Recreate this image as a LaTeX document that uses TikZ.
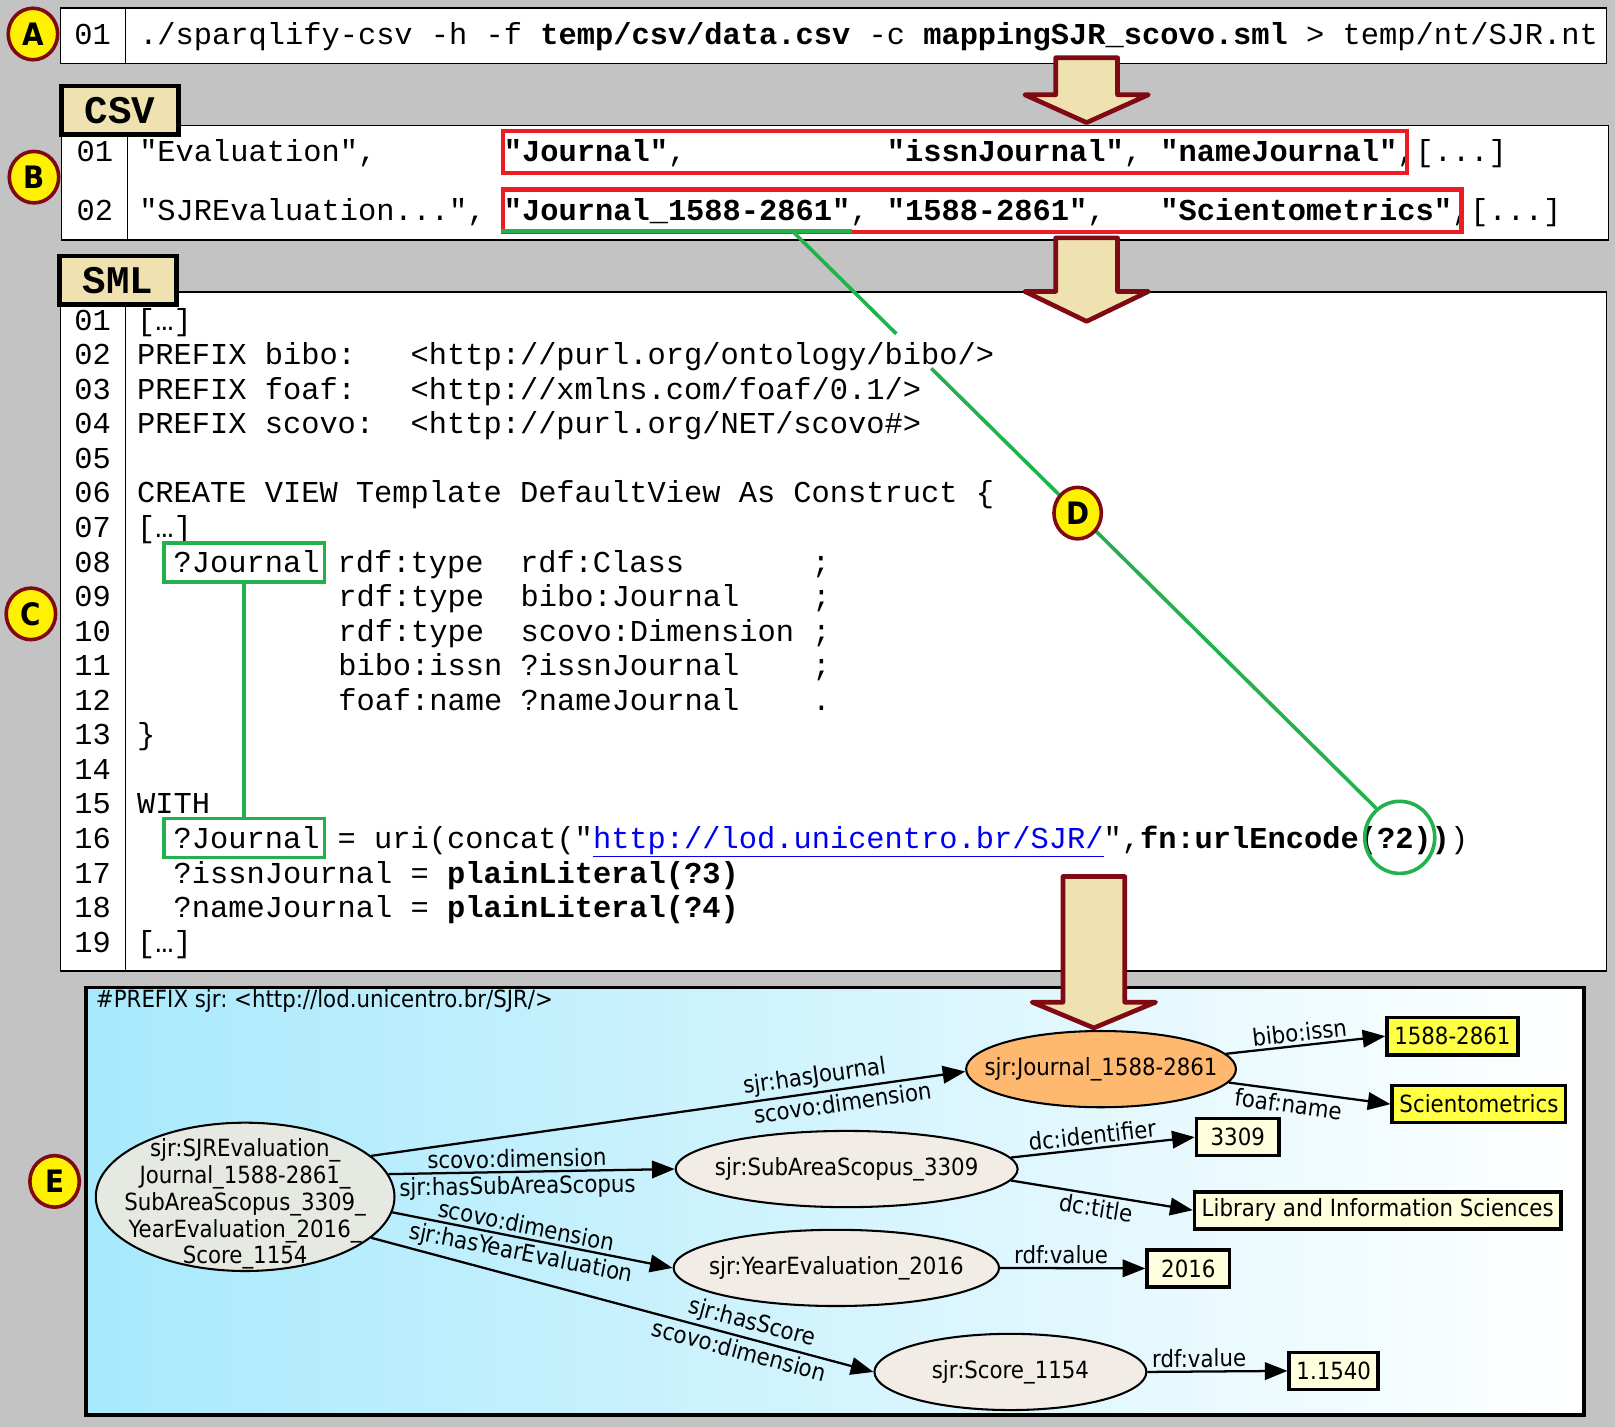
\documentclass[tikz,border=0pt]{standalone}
\usepackage{fontspec}
\setmainfont{DejaVu Sans Condensed}
\setmonofont{Liberation Mono}
\usepackage{tikz}
\usetikzlibrary{positioning,calc,arrows.meta,shapes.geometric}
\frenchspacing
\definecolor{bgc}{HTML}{C3C3C3}
\definecolor{wheatc}{HTML}{EFE2B0}
\definecolor{maroonc}{HTML}{800A14}
\definecolor{hlred}{HTML}{ED1C24}
\definecolor{hlgreen}{HTML}{22B14C}
\definecolor{badgec}{HTML}{FFF200}
\definecolor{skyc}{HTML}{A8E9FC}
\definecolor{journc}{HTML}{FFB870}
\definecolor{resc}{HTML}{F2ECE6}
\definecolor{evalc}{HTML}{E5E9E1}
\definecolor{litc}{HTML}{FFFFDD}
\definecolor{keyc}{HTML}{FFFF44}
\definecolor{linkc}{HTML}{0000EE}
\newcommand{\codefont}{\fontsize{29.5}{33}\selectfont\ttfamily}
\newcommand{\tabfont}{\fontsize{38}{38}\selectfont\ttfamily\bfseries}
\newcommand{\badgefont}{\fontsize{30}{30}\selectfont\bfseries}
\newcommand{\graphfont}{\fontsize{23}{26}\selectfont}
\newcommand{\cw}{17.75}
\newcommand{\ly}[1]{320.5+(#1-1)*33.55}
% block arrow: x centre, top, head base, tip
\newcommand{\blockarrow}[4]{%
  \draw[bigarrow] (#1-30,#2) -- (#1+30,#2) -- (#1+30,#3) -- (#1+60,#3) -- (#1,#4)
    -- (#1-60,#3) -- (#1-30,#3) -- cycle;}

\begin{document}
\begin{tikzpicture}[x=1pt, y=-1pt,
  codebox/.style={draw, line width=1.5pt, fill=white, inner sep=0pt, anchor=north west},
  codeline/.style={anchor=base west, inner sep=0pt, font=\codefont},
  lnum/.style={anchor=base, inner sep=0pt, font=\codefont},
  tabbox/.style={draw, line width=4.5pt, fill=wheatc, inner sep=0pt, minimum width=114pt, minimum height=47pt, font=\tabfont},
  hlbox/.style={draw=hlred, line width=4pt, inner sep=0pt, minimum height=41pt, anchor=west},
  varbox/.style={draw=hlgreen, line width=3.5pt, inner sep=0pt, minimum width=156pt, minimum height=38pt},
  greenlink/.style={draw=hlgreen, line width=3.5pt},
  badge/.style={ellipse, draw=maroonc, fill=badgec, line width=3.5pt, inner sep=0pt, minimum width=48pt, minimum height=50pt, font=\badgefont},
  bigarrow/.style={draw=maroonc, fill=wheatc, line width=4.5pt, line join=round},
  gnode/.style={ellipse, draw, line width=2pt, inner sep=0pt, minimum height=74pt, fill=resc},
  lit/.style={draw, line width=3.5pt, fill=litc, inner xsep=7pt, inner ysep=0pt, minimum width=80pt, minimum height=36pt, anchor=west, font=\graphfont},
  rel/.style={-{Triangle[length=22pt,width=17pt]}, line width=2.2pt},
  elab/.style={sloped, inner sep=3pt, font=\graphfont}]

  \fill[bgc] (0,0) rectangle (1568,1385);
  \useasboundingbox (0,0) rectangle (1568,1385);

  % A: command line
  \node[codebox, minimum width=1501pt, minimum height=54pt] (cmdbox) at (58,7) {};
  \draw[line width=1.5pt] (122,7) -- (122,61);
  \node[lnum] (cmdnum) at (90,43) {01};
  \node[codeline] (cmd) at (135,43) {./sparqlify-csv -h -f \textbf{temp/csv/data.csv} -c \textbf{mappingSJR\_scovo.sml} > temp/nt/SJR.nt};

  % B: csv
  \node[codebox, minimum width=1502pt, minimum height=111pt] (csvbox) at (59,121) {};
  \draw[line width=1.5pt] (124,121) -- (124,232);
  \node[lnum] (csvn1) at (92,157) {01};
  \node[lnum] (csvn2) at (92,214) {02};
  \node[codeline] (csvhead) at (135,157) {"Evaluation",~~~~~~~\textbf{"Journal"},~~~~~~~~~~~\textbf{"issnJournal"},~\textbf{"nameJournal"},[...]};
  \node[codeline] (csvrow) at (135,214) {"SJREvaluation...",~\textbf{"Journal\_1588-2861"},~\textbf{"1588-2861"},~~~\textbf{"Scientometrics"},[...]};
  \node[hlbox, minimum width=878pt] (hlhead) at (486,147.5) {};
  \node[hlbox, minimum width=931pt] (hlrow) at (486,204.5) {};
  \draw[greenlink] (486,224) -- (827,224);
  \coordinate (csvlink) at (770,225);
  \node[tabbox] (csvtab) at (116.5,107) {CSV};

  % C: sml
  \node[codebox, minimum width=1501pt, minimum height=659pt] (smlbox) at (58,283) {};
  \draw[line width=1.5pt] (122,283) -- (122,942);
  \foreach \n [count=\k] in {01,02,03,04,05,06,07,08,09,10,11,12,13,14,15,16,17,18,19}
    \node[lnum] (ln\k) at (90,{\ly{\k}}) {\n};
  \node[codeline] (s01) at (133,{\ly{1}}) {[…]};
  \node[codeline] (s02) at (133,{\ly{2}}) {PREFIX bibo:~~~<http://purl.org/ontology/bibo/>};
  \node[codeline] (s03) at (133,{\ly{3}}) {PREFIX foaf:~~~<http://xmlns.com/foaf/0.1/>};
  \node[codeline] (s04) at (133,{\ly{4}}) {PREFIX scovo:~~<http://purl.org/NET/scovo\#>};
  \node[codeline] (s06) at (133,{\ly{6}}) {CREATE VIEW Template DefaultView As Construct \{};
  \node[codeline] (s07) at (133,{\ly{7}}) {[…]};
  \node[codeline] (s08) at (133,{\ly{8}}) {~~?Journal rdf:type~~rdf:Class~~~~~~~;};
  \node[codeline] (s09) at ({133+11*\cw},{\ly{9}}) {rdf:type~~bibo:Journal~~~~;};
  \node[codeline] (s10) at ({133+11*\cw},{\ly{10}}) {rdf:type~~scovo:Dimension~;};
  \node[codeline] (s11) at ({133+11*\cw},{\ly{11}}) {bibo:issn~?issnJournal~~~~;};
  \node[codeline] (s12) at ({133+11*\cw},{\ly{12}}) {foaf:name~?nameJournal~~~~.};
  \node[codeline] (s13) at (133,{\ly{13}}) {\}};
  \node[codeline] (s15) at (133,{\ly{15}}) {WITH};
  \node[codeline] (s16) at (133,{\ly{16}}) {~~?Journal = uri(concat("\textcolor{linkc}{\underline{http://lod.unicentro.br/SJR/}}",\textbf{fn:urlEncode(?2))})};
  \node[codeline] (s17) at (133,{\ly{17}}) {~~?issnJournal = \textbf{plainLiteral(?3)}};
  \node[codeline] (s18) at (133,{\ly{18}}) {~~?nameJournal = \textbf{plainLiteral(?4)}};
  \node[codeline] (s19) at (133,{\ly{19}}) {[…]};
  \node[tabbox] (smltab) at (114.5,272) {SML};

  % D: green marks
  \node[varbox] (jvar1) at (237,546) {};
  \node[varbox] (jvar2) at (237,813.5) {};
  \draw[greenlink] (jvar1.south) -- (jvar2.north);
  \node[ellipse, greenlink, inner sep=0pt, minimum width=68pt, minimum height=70pt] (argtwo) at (1359,813) {};
  \draw[greenlink] (csvlink) -- ($(csvlink)!0.177!(argtwo.129)$);
  \draw[greenlink] ($(csvlink)!0.237!(argtwo.129)$) -- (argtwo.129);

  % badges
  \node[badge] (bA) at (32,33) {A};
  \node[badge] (bB) at (33,172) {B};
  \node[badge] (bC) at (30,596) {C};
  \node[badge, minimum width=46pt] (bD) at ($(csvlink)!0.488!(argtwo.129)$) {D};
  \node[badge] (bE) at (53,1147) {E};

  \blockarrow{1055}{56}{92}{119}
  \blockarrow{1055}{231}{283}{312}

  % E: graph
  \node[draw, line width=3.5pt, left color=skyc, right color=white, inner sep=0pt,
    minimum width=1454pt, minimum height=415pt, anchor=north west] (graph) at (82,957) {};
  \node[anchor=mid west, inner sep=0pt, font=\graphfont] (prefix) at (93,975) {\#PREFIX sjr: <http://lod.unicentro.br/SJR/>};

  \node[gnode, fill=evalc, minimum width=290pt, minimum height=144pt,
    label={[align=center, font=\graphfont, yshift=-7pt]center:{sjr:SJREvaluation\_\\Journal\_1588-2861\_\\SubAreaScopus\_3309\_\\YearEvaluation\_2016\_\\Score\_1154}}] (eval) at (238,1162) {};
  \node[gnode, fill=journc, minimum width=262pt, label={[font=\graphfont]center:{sjr:Journal\_1588-2861}}] (journ) at (1069,1038) {};
  \node[gnode, minimum width=332pt, label={[font=\graphfont]center:{sjr:SubAreaScopus\_3309}}] (sub) at (822,1135) {};
  \node[gnode, minimum width=316pt, label={[font=\graphfont]center:{sjr:YearEvaluation\_2016}}] (year) at (812,1231) {};
  \node[gnode, minimum width=264pt, label={[font=\graphfont]center:{sjr:Score\_1154}}] (score) at (981,1332) {};

  \node[lit, fill=keyc] (issn) at (1345,1006) {1588-2861};
  \node[lit, fill=keyc] (name) at (1350,1072) {Scientometrics};
  \node[lit] (subid) at (1160,1104) {3309};
  \node[lit] (subtitle) at (1158,1175) {Library and Information Sciences};
  \node[lit] (yearval) at (1112,1231.5) {2016};
  \node[lit] (scoreval) at (1250,1331) {1.1540};

  \draw[rel] (eval.18) -- node[elab, pos=.75, above] {sjr:hasJournal} node[elab, pos=.79, below] {scovo:dimension} (journ.181);
  \draw[rel] (eval.9) -- node[elab, pos=.45, above] {scovo:dimension} node[elab, pos=.45, below] {sjr:hasSubAreaScopus} (sub.west);
  \draw[rel] (eval.-6) -- node[elab, pos=.47, above] {scovo:dimension} node[elab, pos=.47, below] {sjr:hasYearEvaluation} (year.west);
  \draw[rel] (eval.-18) -- node[elab, pos=.75, above] {sjr:hasScore} node[elab, pos=.74, below] {scovo:dimension} (score.west);
  \draw[rel] (journ.7) -- node[elab, pos=.47, above] {bibo:issn} (issn.west);
  \draw[rel] (journ.-6) -- node[elab, pos=.38, below] {foaf:name} (name.west);
  \draw[rel] (sub.4) -- node[elab, pos=.45, above] {dc:identifier} (subid.west);
  \draw[rel] (sub.-4) -- node[elab, pos=.48, below] {dc:title} (subtitle.west);
  \draw[rel] (year.east) -- node[elab, pos=.42, above] {rdf:value} (yearval.west);
  \draw[rel] (score.east) -- node[elab, pos=.37, above] {rdf:value} (scoreval.west);

  \blockarrow{1062}{851}{973}{998}
\end{tikzpicture}
\end{document}
